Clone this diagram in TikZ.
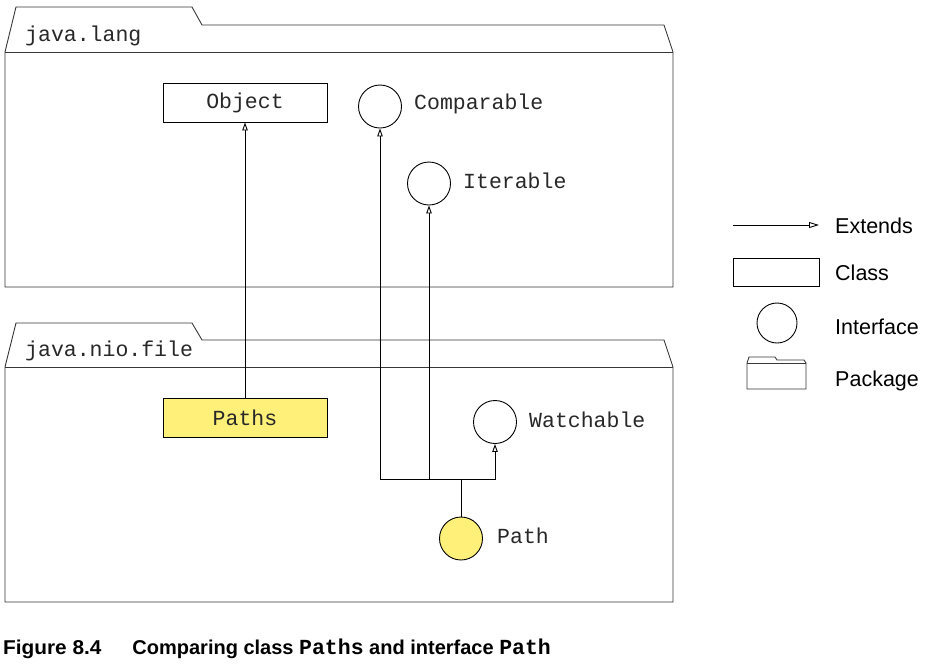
\documentclass[tikz,border=0pt]{standalone}
\usepackage{fontspec}
\setmainfont{Liberation Sans}
\setsansfont{Liberation Sans}
\setmonofont{Liberation Mono}
\usetikzlibrary{arrows.meta}
\definecolor{pyellow}{RGB}{255,240,122}
\definecolor{pkgline}{RGB}{55,55,55}
\definecolor{monotext}{RGB}{40,40,40}
\begin{document}
\begin{tikzpicture}[x=1pt,y=-1pt,
  pkg/.style={draw=pkgline,line width=0.9pt,line join=miter},
  classbox/.style={draw,line width=0.9pt,rectangle,minimum width=164pt,minimum height=39pt,inner sep=0pt,
     font=\ttfamily\fontsize{21.5}{24}\selectfont,text=monotext},
  iface/.style={draw,line width=0.9pt,circle,minimum size=43pt,inner sep=0pt,fill=white},
  monolbl/.style={anchor=west,inner sep=0pt,font=\ttfamily\fontsize{21.5}{24}\selectfont,text=monotext},
  leglbl/.style={anchor=west,inner sep=0pt,font=\sffamily\fontsize{21.5}{24}\selectfont},
  ext/.style={line width=0.9pt,-{Triangle[open,length=8pt,width=5.5pt,line width=0.9pt]}},
  plain/.style={line width=0.9pt}]
\useasboundingbox (0,0) rectangle (925,665);

% packages
\draw[pkg] (5,287) -- (5,52) -- (16,7) -- (192,7) -- (202,25) -- (664,25) -- (673,52) -- (673,287) -- cycle;
\draw[pkg] (5,52) -- (673,52);
\node[monolbl] (langlbl) at (25,36) {java.lang};

\draw[pkg] (5,602) -- (5,367) -- (16,323) -- (192,323) -- (202,340) -- (664,340) -- (673,367) -- (673,602) -- cycle;
\draw[pkg] (5,367) -- (673,367);
\node[monolbl] (niolbl) at (25,351) {java.nio.file};

% classes and interfaces
\node[classbox] (Object) at (245,102.5) {Object};
\node[classbox,fill=pyellow] (Paths) at (245,418) {Paths};
\node[iface] (Comparable) at (380,106.5) {};
\node[monolbl] (Comparablelbl) at (414,104) {Comparable};
\node[iface] (Iterable) at (429,183.5) {};
\node[monolbl] (Iterablelbl) at (463,181) {Iterable};
\node[iface] (Watchable) at (495,422) {};
\node[monolbl] (Watchablelbl) at (529,420) {Watchable};
\node[iface,fill=pyellow] (Path) at (461,538.5) {};
\node[monolbl] (Pathlbl) at (497,536) {Path};

% connectors
\coordinate (jn) at (461,479);
\draw[ext] (Paths.north) -- (Object.south);
\draw[plain] (Path.north) -- (jn);
\draw[ext] (jn) -| (Watchable.south);
\draw[ext] (jn) -| (Comparable.south);
\draw[ext] (Iterable.south |- jn) -- (Iterable.south);

% legend
\coordinate (legA) at (733,225);
\coordinate (legB) at (819,225);
\draw[line width=0.9pt,-{Triangle[open,length=10pt,width=6pt,line width=0.9pt]}] (legA) -- (legB);
\node[leglbl] (extlbl) at (835,226) {Extends};
\node[draw,line width=0.9pt,minimum width=86pt,minimum height=28pt,inner sep=0pt] (legclass) at (776,272) {};
\node[leglbl] (classlbl) at (835,273) {Class};
\node[draw,line width=0.9pt,circle,minimum size=40pt,inner sep=0pt] (legiface) at (777,323) {};
\node[leglbl] (ifacelbl) at (835,327) {Interface};
\draw[pkg] (747,389) -- (747,363) -- (749,357) -- (775,357) -- (777,360) -- (804,360) -- (806,363) -- (806,389) -- cycle;
\draw[pkg] (747,363) -- (806,363);
\node[leglbl] (pkglbl) at (835,381) {Package};

% caption
\node[anchor=base west,inner sep=0pt,font=\sffamily\bfseries\fontsize{20}{22}\selectfont] (caption) at (3,654)
  {\scalebox{1.04}[1]{Figure 8.4}\hspace{31pt}Comparing class {\ttfamily\bfseries\fontsize{21.5}{22}\selectfont Paths} and interface {\ttfamily\bfseries\fontsize{21.5}{22}\selectfont Path}};
\end{tikzpicture}
\end{document}
